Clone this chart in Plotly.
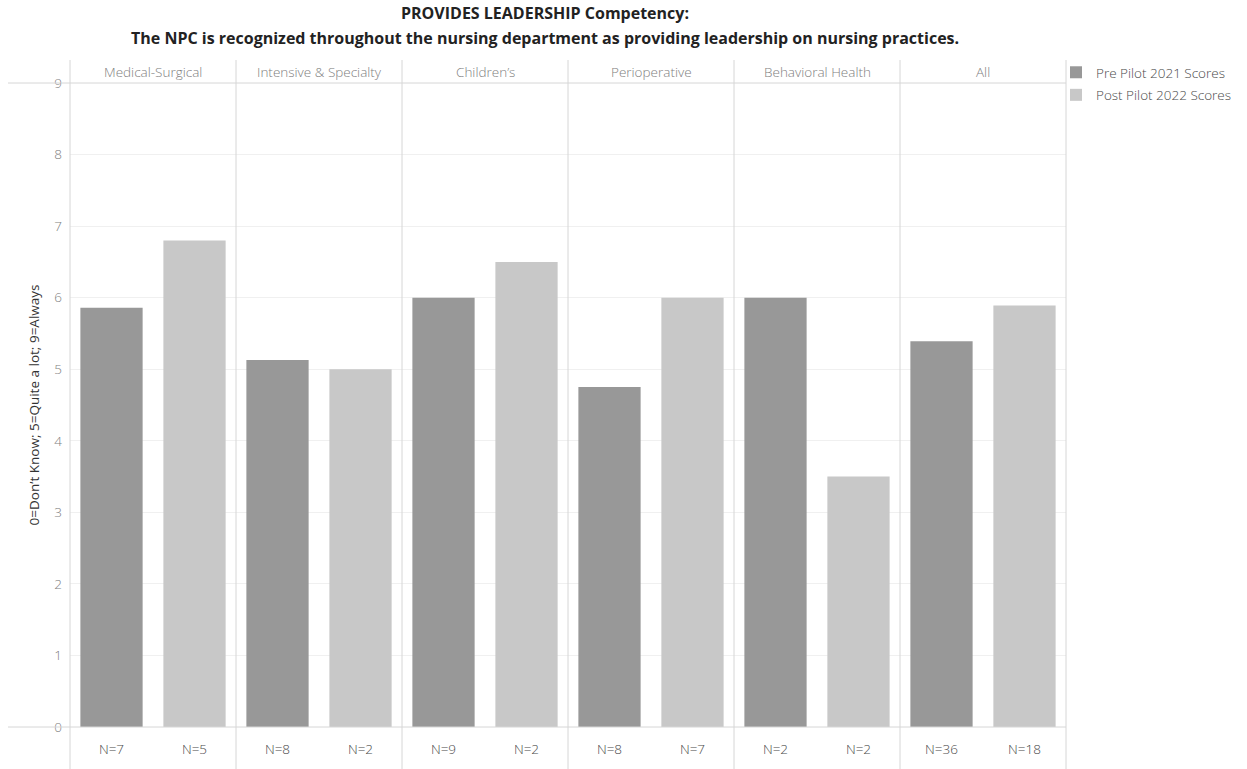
import plotly.graph_objects as go
from plotly.subplots import make_subplots

categories = ["Medical-Surgical", "Intensive & Specialty", "Children\u2019s",
              "Perioperative", "Behavioral Health", "All"]
pre_scores = [5.86, 5.13, 6.0, 4.75, 6.0, 5.39]
post_scores = [6.8, 5.0, 6.5, 6.0, 3.5, 5.89]
pre_n = ["N=7", "N=8", "N=9", "N=8", "N=2", "N=36"]
post_n = ["N=5", "N=2", "N=2", "N=7", "N=2", "N=18"]
series_names = ["Pre Pilot 2021 Scores", "Post Pilot 2022 Scores"]
series_colors = ["#989898", "#c8c8c8"]
y_ticks = list(range(10))
title_lines = ["PROVIDES LEADERSHIP Competency:",
               "The NPC is recognized throughout the nursing department as providing leadership on nursing practices."]

W, H = 1247, 769
ML, MR, MT, MB = 70, 181, 83, 42
PW, PH = W - ML - MR, H - MT - MB

fig = make_subplots(rows=1, cols=len(categories), shared_yaxes=True,
                    horizontal_spacing=0)

FONT = "Open Sans"
LIGHT = dict(family=FONT, size=13.5, color="#707070", weight=300)
for i, cat in enumerate(categories):
    col = i + 1
    fig.add_trace(go.Bar(x=["pre"], y=[pre_scores[i]], name=series_names[0],
                         marker=dict(color=series_colors[0], line=dict(width=0)),
                         showlegend=(i == 0), legendgroup="pre"), row=1, col=col)
    fig.add_trace(go.Bar(x=["post"], y=[post_scores[i]], name=series_names[1],
                         marker=dict(color=series_colors[1], line=dict(width=0)),
                         showlegend=(i == 0), legendgroup="post"), row=1, col=col)
    fig.update_xaxes(row=1, col=col, type="category",
                     categoryorder="array", categoryarray=["pre", "post"],
                     tickmode="array", tickvals=["pre", "post"],
                     ticktext=[pre_n[i], post_n[i]], range=[-0.5, 1.5],
                     showgrid=False, zeroline=False, showline=False, ticks="",
                     ticklabelstandoff=12,
                     tickfont=dict(LIGHT, color="#4a4a4a"))
    xname = "x" if i == 0 else f"x{col}"
    fig.add_annotation(xref=f"{xname} domain", yref="paper", x=0.5,
                       y=1 + 11 / PH, text=cat, showarrow=False,
                       font=dict(LIGHT, color="#808080"),
                       xanchor="center", yanchor="middle")

fig.update_yaxes(range=[0, 9], tickmode="array", tickvals=y_ticks,
                 showgrid=True, gridcolor="#f0f0f0", gridwidth=1,
                 zeroline=False, showline=False, ticks="",
                 tickfont=dict(LIGHT, color="#808080"))
fig.update_yaxes(row=1, col=1, ticklabelstandoff=7,
                 title=dict(text="0=Don\u2019t Know; 5=Quite a lot; 9=Always",
                            font=dict(family=FONT, size=13.5, color="#333333"),
                            standoff=11))

shapes = []
line_col = "#d6d6d6"
for yv in (0, 1):
    shapes.append(dict(type="line", xref="paper", yref="paper",
                       x0=(8 - ML) / PW, x1=1, y0=yv, y1=yv,
                       line=dict(color=line_col, width=1)))
n = len(categories)
for k in range(n + 1):
    shapes.append(dict(type="line", xref="paper", yref="paper",
                       x0=k / n, x1=k / n, y0=-MB / PH, y1=1 + 23 / PH,
                       line=dict(color=line_col, width=1)))
fig.update_layout(shapes=shapes)

for j, (txt, ypx) in enumerate(zip(title_lines, [13, 38])):
    fig.add_annotation(xref="paper", yref="paper", x=(545 - ML) / PW,
                       y=1 + (MT - ypx) / PH, xanchor="center", yanchor="middle",
                       showarrow=False, text=f"<b>{txt}</b>",
                       font=dict(family=FONT, size=16, color="#222222"))

fig.update_layout(
    width=W, height=H,
    margin=dict(l=ML, r=MR, t=MT, b=MB, autoexpand=False),
    plot_bgcolor="white", paper_bgcolor="white",
    barmode="overlay", bargap=0.25,
    legend=dict(x=1 - 10 / PW, xref="paper", xanchor="left", y=1 + 26 / PH,
                yanchor="top", font=dict(LIGHT, color="#4a4a4a"),
                bgcolor="rgba(0,0,0,0)", itemwidth=30, tracegroupgap=2),
    font=dict(family=FONT),
)

fig.write_html("out.html")
